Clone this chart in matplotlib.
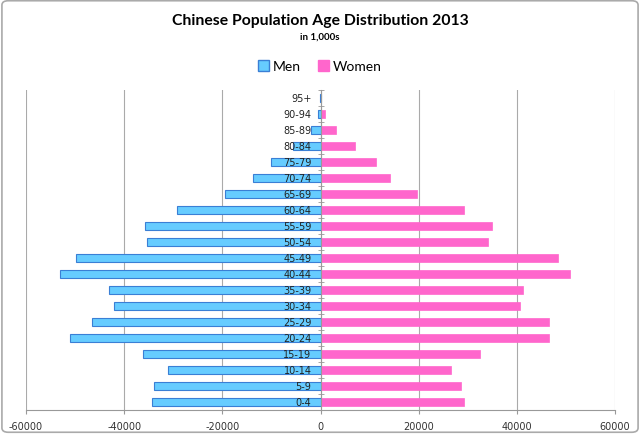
import matplotlib; matplotlib.use("Agg")
import matplotlib.pyplot as plt
import matplotlib.transforms as mtransforms
from matplotlib.patches import FancyBboxPatch, Patch
import numpy as np

AGE_GROUPS = ["0-4", "5-9", "10-14", "15-19", "20-24", "25-29", "30-34", "35-39",
              "40-44", "45-49", "50-54", "55-59", "60-64", "65-69", "70-74",
              "75-79", "80-84", "85-89", "90-94", "95+"]
MEN   = [34330, 33920, 31170, 36080, 50960, 46640, 41980, 43060, 53040, 49880,
         35410, 35830, 29180, 19540, 13720, 10140, 5660, 2030, 550, 100]
WOMEN = [29260, 28600, 26520, 32590, 46470, 46470, 40650, 41320, 50790, 48300,
         34170, 34840, 29180, 19620, 14210, 11220, 7060, 3110, 940, 200]
X_TICKS = [-60000, -40000, -20000, 0, 20000, 40000, 60000]

MEN_FILL, MEN_EDGE = "#66ccff", "#3a7fd5"
WOMEN_FILL = "#ff66cc"

fig = plt.figure(figsize=(6.4, 4.35), dpi=100)
ax = fig.add_axes([0.0406, 0.0552, 0.9204, 0.7358])

y = np.arange(len(AGE_GROUPS))
ax.barh(y, -np.array(MEN), height=0.52, color=MEN_FILL, edgecolor=MEN_EDGE,
        linewidth=0.8, zorder=2)
ax.barh(y, WOMEN, height=0.52, color=WOMEN_FILL, edgecolor=WOMEN_FILL,
        linewidth=0.5, zorder=2)

ax.set_xlim(-60000, 60000)
ax.set_ylim(-0.5, len(AGE_GROUPS) - 0.5)
ax.set_xticks(X_TICKS)
ax.set_xticklabels([str(v) for v in X_TICKS], fontsize=7, color="#333333")
ax.tick_params(axis="x", length=3, color="#999999", pad=5)

ax.set_axisbelow(True)
ax.grid(axis="x", color="#aaaaaa", linewidth=0.8)

for s in ["top", "right"]:
    ax.spines[s].set_visible(False)
ax.spines["bottom"].set_color("#999999")
ax.spines["left"].set_position(("data", 0))
ax.spines["left"].set_color("#999999")
ax.spines["left"].set_zorder(3)
ax.set_yticks([])
ax.set_yticks(np.arange(-0.5, len(AGE_GROUPS)), minor=True)
ax.tick_params(axis="y", which="minor", direction="inout", length=4,
               color="#999999")

offset = mtransforms.offset_copy(ax.transData, fig=fig, x=-9, y=0, units="dots")
for yi, lab in zip(y, AGE_GROUPS):
    ax.text(0, yi, lab, transform=offset, ha="right", va="center",
            fontsize=7, color="#222222", zorder=5)

fig.text(0.5, 1 - 21 / 435, "Chinese Population Age Distribution 2013",
         ha="center", va="center", fontsize=11.3, fontweight="bold", family="Lato")
fig.text(0.5, 1 - 37 / 435, "in 1,000s", ha="center", va="center",
         fontsize=7, fontweight="bold", family="Lato")

handles = [Patch(facecolor=MEN_FILL, edgecolor=MEN_EDGE, label="Men"),
           Patch(facecolor=WOMEN_FILL, edgecolor=WOMEN_FILL, label="Women")]
fig.legend(handles=handles, loc="center", bbox_to_anchor=(0.5, 1 - 67 / 435),
           ncol=2, frameon=False, prop={"family": "Lato", "size": 10},
           handlelength=0.8, handleheight=0.8, handletextpad=0.3, columnspacing=1.2)

fig.patches.append(FancyBboxPatch((0.003, 0.004), 0.994, 0.992,
                                  boxstyle="round,pad=0,rounding_size=0.01",
                                  transform=fig.transFigure, fill=False,
                                  edgecolor="#aaaaaa", linewidth=1.2))

fig.savefig("out.png", dpi=100)
